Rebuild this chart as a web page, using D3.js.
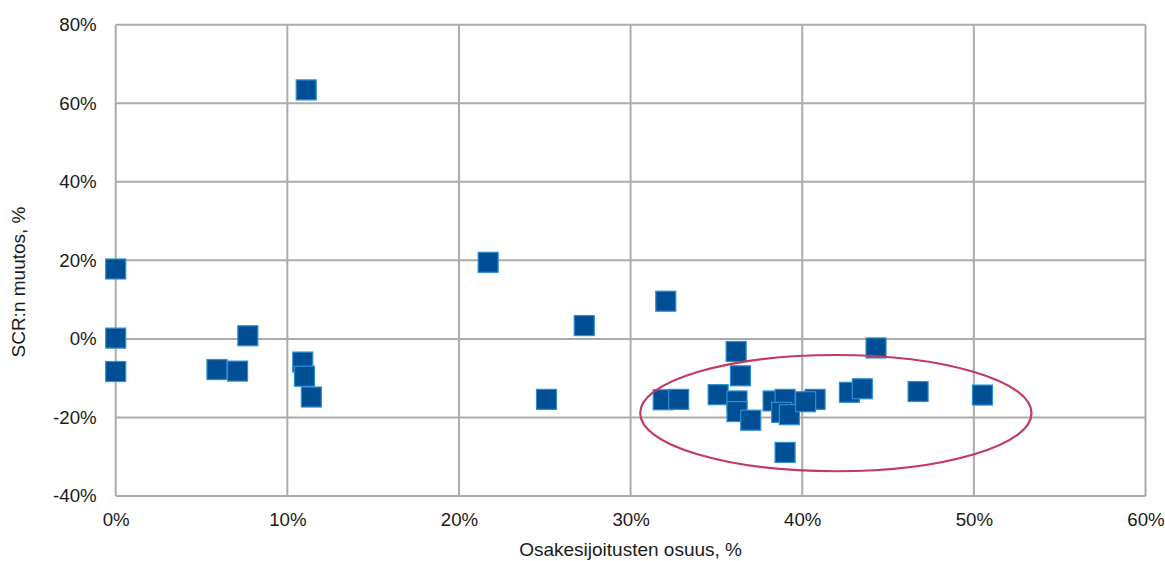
<!DOCTYPE html>
<html>
<head>
<meta charset="utf-8">
<script src="https://cdn.jsdelivr.net/npm/d3@7"></script>
<style>
  html, body { margin: 0; padding: 0; background: #fff; }
  svg { display: block; font-family: "Liberation Sans", Arial, sans-serif; }
</style>
</head>
<body>
<svg id="chart" width="1165" height="561"></svg>
<script>
// Data (fractions)
const equityShare = [0.000, 0.000, 0.000, 0.059, 0.071, 0.077, 0.109, 0.110, 0.111, 0.114,
  0.217, 0.251, 0.273, 0.319, 0.3205, 0.328, 0.351, 0.3615, 0.364, 0.362, 0.362, 0.370,
  0.383, 0.390, 0.388, 0.3925, 0.4075, 0.402, 0.390, 0.4275, 0.435, 0.443, 0.4675, 0.505];
const scrChange = [0.178, 0.002, -0.083, -0.078, -0.082, 0.008, -0.059, -0.095, 0.634, -0.148,
  0.195, -0.154, 0.034, -0.155, 0.096, -0.154, -0.142, -0.032, -0.094, -0.158, -0.185, -0.207,
  -0.158, -0.154, -0.187, -0.193, -0.154, -0.160, -0.289, -0.136, -0.127, -0.023, -0.134, -0.143];
const xTicks = [0, 0.1, 0.2, 0.3, 0.4, 0.5, 0.6];
const yTicks = [-0.4, -0.2, 0, 0.2, 0.4, 0.6, 0.8];
const xTitle = "Osakesijoitusten osuus, %";
const yTitle = "SCR:n muutos,  %";
// Highlight ellipse (data units): center and radii
const ellipseCenter = [0.4196, -0.189];
const ellipseRadii = [0.114, 0.148];

const svg = d3.select("#chart");
const mLeft = 115.7, mRight = 1145.5, mTop = 24.7, mBottom = 496;
const x = d3.scaleLinear().domain([0, 0.6]).range([mLeft, mRight]);
const y = d3.scaleLinear().domain([-0.4, 0.8]).range([mBottom, mTop]);
const pct = d3.format(".0%");
const fmt = d => pct(d).replace("\u2212", "-");
const gridColor = "#ababab";

// Gridlines
svg.append("g").selectAll("line").data(yTicks).join("line")
  .attr("x1", mLeft).attr("x2", mRight)
  .attr("y1", d => y(d)).attr("y2", d => y(d))
  .attr("stroke", gridColor).attr("stroke-width", 2);
svg.append("g").selectAll("line").data(xTicks).join("line")
  .attr("x1", d => x(d)).attr("x2", d => x(d))
  .attr("y1", mTop).attr("y2", mBottom)
  .attr("stroke", gridColor).attr("stroke-width", 2);

// Axes (labels only)
const xAxis = svg.append("g").attr("transform", `translate(0,${mBottom})`)
  .call(d3.axisBottom(x).tickValues(xTicks).tickFormat(fmt).tickSize(0).tickPadding(17));
const yAxis = svg.append("g").attr("transform", `translate(${mLeft},0)`)
  .call(d3.axisLeft(y).tickValues(yTicks).tickFormat(fmt).tickSize(0).tickPadding(19));
[xAxis, yAxis].forEach(a => {
  a.select(".domain").remove();
  a.selectAll("text").attr("font-size", 18.7).attr("fill", "#1a1a1a")
    .attr("font-family", "'Liberation Sans', Arial, sans-serif");
});

// Axis titles
svg.append("text").attr("x", (mLeft + mRight) / 2).attr("y", 556)
  .attr("text-anchor", "middle").attr("font-size", 19).attr("fill", "#1a1a1a").text(xTitle);
svg.append("text").attr("transform", "translate(25,282) rotate(-90)")
  .attr("text-anchor", "middle").attr("font-size", 19).attr("fill", "#1a1a1a").text(yTitle);

// Markers
const pts = equityShare.map((v, i) => ({ x: v, y: scrChange[i] }));
const s = 20;
svg.append("g").selectAll("rect").data(pts).join("rect")
  .attr("x", d => x(d.x) - s / 2).attr("y", d => y(d.y) - s / 2)
  .attr("width", s).attr("height", s)
  .attr("fill", "#004e93").attr("stroke", "#2b8fd2").attr("stroke-width", 1.2);

// Ellipse annotation
svg.append("ellipse")
  .attr("cx", x(ellipseCenter[0])).attr("cy", y(ellipseCenter[1]))
  .attr("rx", x(ellipseRadii[0]) - x(0)).attr("ry", y(0) - y(ellipseRadii[1]))
  .attr("fill", "none").attr("stroke", "#c23a5c").attr("stroke-width", 2.2);
</script>
</body>
</html>
